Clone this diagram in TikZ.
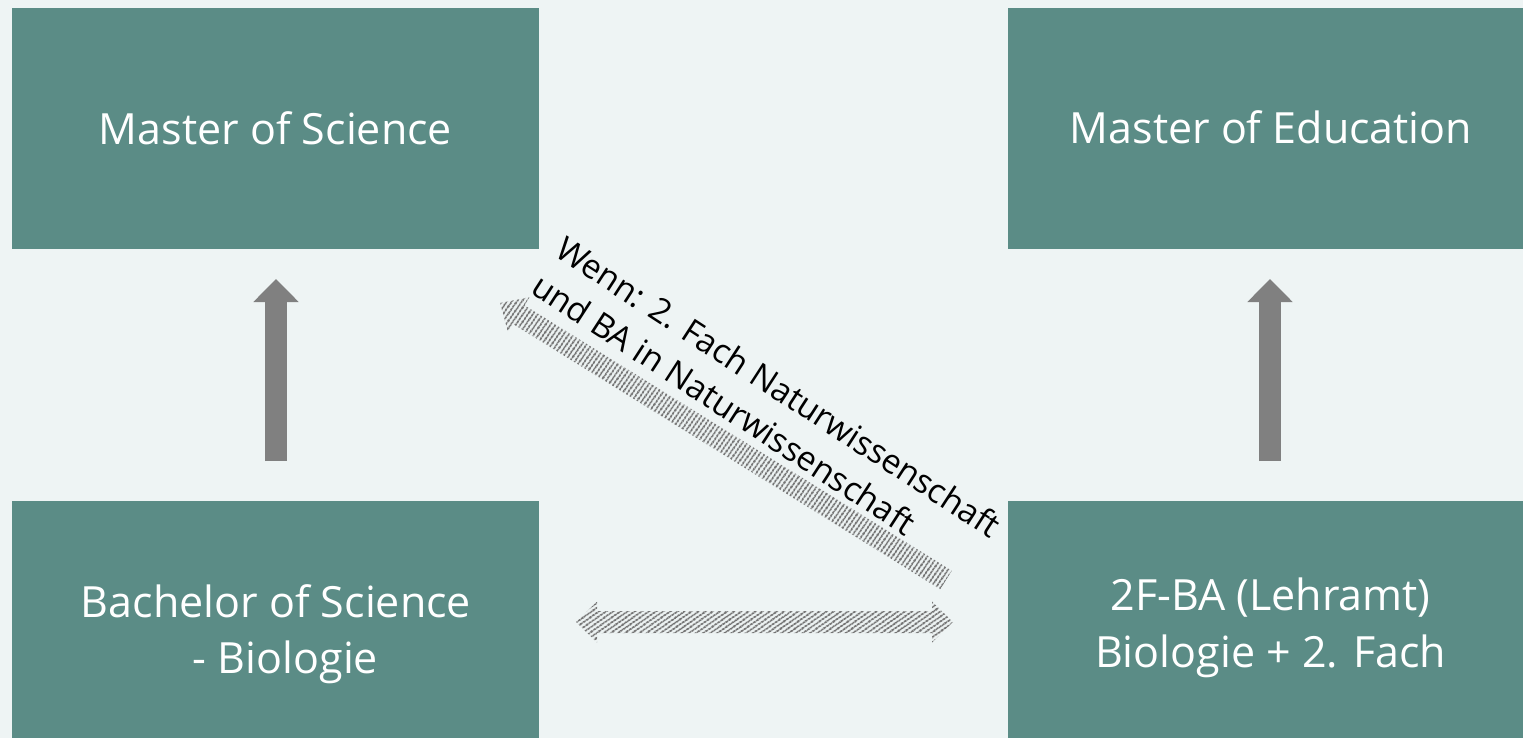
\documentclass[tikz,border=0pt]{standalone}
\usepackage{fontspec}
\setmainfont{Open Sans}
\usetikzlibrary{arrows.meta,patterns.meta}
\definecolor{bgcol}{HTML}{EEF4F4}
\definecolor{boxcol}{HTML}{5B8C86}
\definecolor{arrgray}{HTML}{808080}
\definecolor{hatchgray}{HTML}{767676}
\tikzset{
  box/.style={rectangle, fill=boxcol, draw=none, inner sep=0pt},
  boxtext/.style={text=white, font=\fontsize{43}{52}\selectfont, inner sep=0pt, anchor=base},
  diagtext/.style={text=black, font=\fontsize{33.5}{44}\selectfont, inner sep=0pt, anchor=base west, rotate=-33, align=left},
  solidarrow/.style={draw=arrgray, line width=22pt, -{Triangle[width=44pt,length=23pt]}},
  hatchA/.style={pattern={Lines[angle=35,distance=4pt,line width=2.2pt]}, pattern color=hatchgray},
  hatchB/.style={pattern={Lines[angle=55,distance=4pt,line width=2.2pt]}, pattern color=hatchgray}
}
\begin{document}
\begin{tikzpicture}[x=1pt,y=-1pt]
\useasboundingbox (0,0) rectangle (1523,738);
\fill[bgcol] (0,0) rectangle (1523,738);
% boxes
\node[box, minimum width=527pt, minimum height=241pt] (msc) at (275.5,128.5) {};
\node[box, minimum width=515pt, minimum height=241pt] (med) at (1265.5,128.5) {};
\node[box, minimum width=527pt, minimum height=237pt] (bsc) at (275.5,619.5) {};
\node[box, minimum width=515pt, minimum height=237pt] (fba) at (1265.5,619.5) {};
% texts
\node[boxtext] (tmsc) at (275.5,144.5) {Master of Science};
\node[boxtext] (tmed) at (1271,143.5) {Master of Education};
\node[boxtext] (tbsc1) at (276,617) {Bachelor of Science};
\node[boxtext] (tbsc2) at (285.5,673) {- Biologie};
\node[boxtext] (tfba1) at (1270.5,610) {2F-BA (Lehramt)};
\node[boxtext] (tfba2) at (1270.5,667) {Biologie + 2. Fach};
% vertical arrows
\coordinate (la0) at (276,461); \coordinate (la1) at (276,279);
\coordinate (ra0) at (1270,461); \coordinate (ra1) at (1270,279);
\draw[solidarrow] (la0) -- (la1);
\draw[solidarrow] (ra0) -- (ra1);
% horizontal double arrow
\path[hatchA] (576,622) -- (597,601.5) -- (597,611) -- (932,611) -- (932,601.5) -- (953,622)
  -- (932,642.5) -- (932,633) -- (597,633) -- (597,642.5) -- cycle;
% diagonal arrow
\path[hatchB] (951.8,570.7) -- (524.5,305.3) -- (529.5,297.2) -- (500,303) -- (507.9,332.0)
  -- (512.9,323.9) -- (940.2,589.3) -- cycle;
% diagonal label (anchor = baseline of the last line)
\node[diagtext] (dlabel) at (529,292) {Wenn: 2. Fach Naturwissenschaft\\und BA in Naturwissenschaft};
\end{tikzpicture}
\end{document}
